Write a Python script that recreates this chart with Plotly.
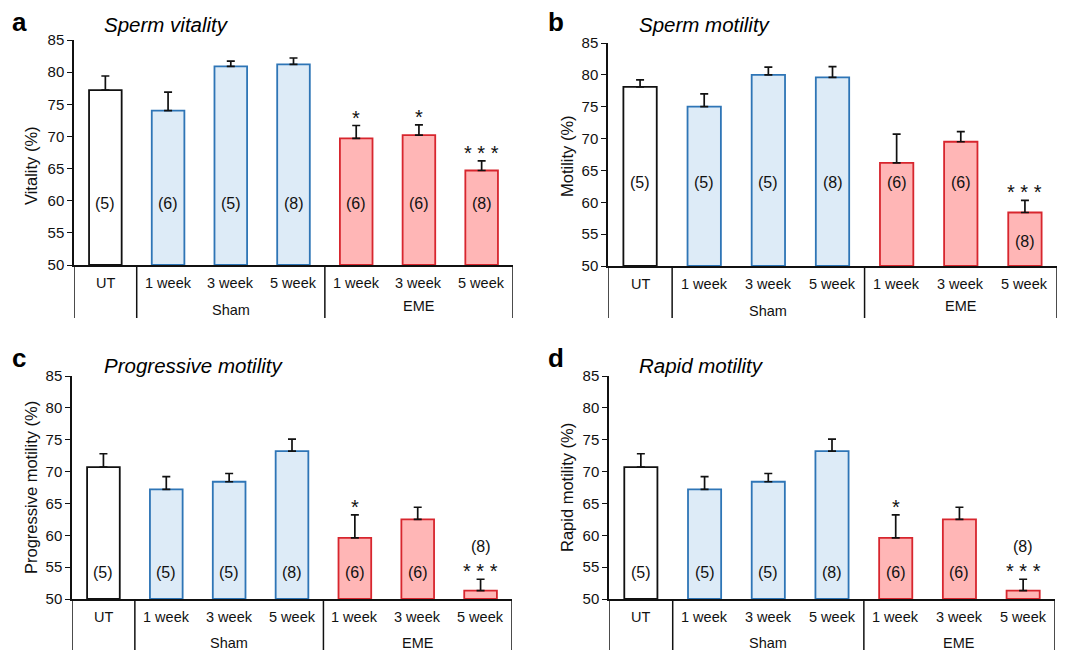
import plotly.graph_objects as go

# ---------------- data ----------------
categories = ["UT", "1 week", "3 week", "5 week", "1 week", "3 week", "5 week"]
groups = [("Sham", 1, 3), ("EME", 4, 6)]

vitality = [77.2, 74.0, 80.9, 81.2, 69.7, 70.2, 64.7]
vitality_err = [2.2, 2.9, 0.8, 1.0, 2.0, 1.6, 1.5]
vitality_n = [5, 6, 5, 8, 6, 6, 8]
vitality_sig = ["", "", "", "", "*", "*", "***"]

motility = [78.1, 75.0, 80.0, 79.6, 66.2, 69.5, 58.4]
motility_err = [1.1, 2.0, 1.2, 1.7, 4.5, 1.6, 1.9]
motility_n = [5, 5, 5, 8, 6, 6, 8]
motility_sig = ["", "", "", "", "", "", "***"]

progressive = [70.7, 67.2, 68.4, 73.2, 59.6, 62.5, 51.3]
progressive_err = [2.1, 2.0, 1.3, 1.9, 3.6, 1.9, 1.8]
progressive_n = [5, 5, 5, 8, 6, 6, 8]
progressive_sig = ["", "", "", "", "*", "", "***"]

rapid = [70.7, 67.2, 68.4, 73.2, 59.6, 62.5, 51.3]
rapid_err = [2.1, 2.0, 1.3, 1.9, 3.6, 1.9, 1.8]
rapid_n = [5, 5, 5, 8, 6, 6, 8]
rapid_sig = ["", "", "", "", "*", "", "***"]

y_ticks = [50, 55, 60, 65, 70, 75, 80, 85]

# ---------------- style ----------------
FONT = "Liberation Sans, Arial, sans-serif"
W, H = 1072, 650
fills = ["#FFFFFF", "#DDEBF7", "#DDEBF7", "#DDEBF7", "#FFB6B6", "#FFB6B6", "#FFB6B6"]
edges = ["#111111", "#2E75B6", "#2E75B6", "#2E75B6", "#D7262E", "#D7262E", "#D7262E"]

# panel layout in pixels: (x_left, x_right, y_top(85), y_bottom(50), divider_bottom)
panels = [
    dict(letter="a", title="Sperm vitality", ytitle="Vitality (%)",
         vals=vitality, err=vitality_err, n=vitality_n, sig=vitality_sig,
         px=(74, 513, 40, 265, 318), lab_y=59.6, lab_override={},
         letter_pos=(19, 22), title_pos=(102, 24), ytitle_pos=(31, 166),
         sham_dy=45, eme_dy=41),
    dict(letter="b", title="Sperm motility", ytitle="Motility (%)",
         vals=motility, err=motility_err, n=motility_n, sig=motility_sig,
         px=(608, 1057, 43, 266, 318), lab_y=63.1, lab_override={6: 53.9},
         letter_pos=(556, 22), title_pos=(637, 24), ytitle_pos=(567, 156),
         sham_dy=45, eme_dy=40),
    dict(letter="c", title="Progressive motility", ytitle="Progressive motility (%)",
         vals=progressive, err=progressive_err, n=progressive_n, sig=progressive_sig,
         px=(72, 512, 376, 599, 650), lab_y=54.2, lab_override={6: 58.3},
         letter_pos=(19, 358), title_pos=(102, 365), ytitle_pos=(31, 488),
         sham_dy=44, eme_dy=44),
    dict(letter="d", title="Rapid motility", ytitle="Rapid motility (%)",
         vals=rapid, err=rapid_err, n=rapid_n, sig=rapid_sig,
         px=(609, 1055, 376, 599, 650), lab_y=54.2, lab_override={6: 58.3},
         letter_pos=(556, 358), title_pos=(637, 365), ytitle_pos=(567, 488),
         sham_dy=44, eme_dy=44),
]

fig = go.Figure()
annotations = []
shapes = []
layout_axes = {}

x_idx = list(range(len(categories)))

for i, p in enumerate(panels):
    k = "" if i == 0 else str(i + 1)
    xa, ya = "x" + k, "y" + k
    xl, xr, yt, yb, ydiv = p["px"]
    xdom = [xl / W, xr / W]
    ydom = [1 - yb / H, 1 - yt / H]

    fig.add_trace(go.Bar(
        x=x_idx, y=[v - 50 for v in p["vals"]], base=50,
        width=0.52,
        marker=dict(color=fills, line=dict(color=edges, width=1.8)),
        error_y=dict(type="data", symmetric=False, array=p["err"],
                     arrayminus=[0] * len(p["err"]), color="#111111",
                     thickness=1.7, width=4),
        xaxis=xa, yaxis=ya, showlegend=False, hoverinfo="skip",
    ))

    layout_axes["xaxis" + k] = dict(
        domain=xdom, anchor=ya, range=[-0.5, 6.5], showgrid=False,
        zeroline=False, showline=True, linecolor="#111111", linewidth=1.5,
        ticks="", showticklabels=False, fixedrange=True, automargin=False)
    layout_axes["yaxis" + k] = dict(
        domain=ydom, anchor=xa, range=[50, 85], tickvals=y_ticks,
        showgrid=False, zeroline=False, showline=True, linecolor="#111111",
        linewidth=1.5, ticks="outside", ticklen=5, tickwidth=1.3,
        tickcolor="#111111", tickfont=dict(family=FONT, size=15, color="#111111"),
        fixedrange=True, automargin=False)

    # count labels and significance stars
    for j, v in enumerate(p["vals"]):
        ly = p["lab_override"].get(j, p["lab_y"])
        annotations.append(dict(
            x=j, y=ly, xref=xa, yref=ya, text=f"({p['n'][j]})", showarrow=False,
            font=dict(family=FONT, size=16, color="#111111"), yanchor="middle"))
        if p["sig"][j]:
            s = p["sig"][j]
            annotations.append(dict(
                x=j, y=v + p["err"][j], xref=xa, yref=ya,
                text=" ".join(s) if len(s) > 1 else s, showarrow=False,
                font=dict(family=FONT, size=20, color="#111111"),
                yanchor="bottom", yshift=-5))

    # category labels
    for j, c in enumerate(categories):
        annotations.append(dict(
            x=j, y=1 - (yb + 18) / H, xref=xa, yref="paper", text=c,
            showarrow=False, yanchor="middle",
            font=dict(family=FONT, size=14.5, color="#111111")))
    # group labels
    for (g, a, b) in groups:
        dy = p["sham_dy"] if g == "Sham" else p["eme_dy"]
        annotations.append(dict(
            x=(a + b) / 2, y=1 - (yb + dy) / H, xref=xa, yref="paper", text=g,
            showarrow=False, yanchor="middle",
            font=dict(family=FONT, size=14.5, color="#111111")))
    # dividers
    for xd in [-0.5, 0.5, 3.5, 6.5]:
        shapes.append(dict(type="line", xref=xa, yref="paper", x0=xd, x1=xd,
                           y0=1 - yb / H, y1=1 - ydiv / H,
                           line=dict(color="#111111", width=1.5)))

    # panel letter, title, y title
    lx, ly_ = p["letter_pos"]
    annotations.append(dict(x=lx / W, y=1 - ly_ / H, xref="paper", yref="paper",
                            text=f"<b>{p['letter']}</b>", showarrow=False,
                            xanchor="center", yanchor="middle",
                            font=dict(family=FONT, size=26, color="#000000")))
    tx, ty = p["title_pos"]
    annotations.append(dict(x=tx / W, y=1 - ty / H, xref="paper", yref="paper",
                            text=f"<i>{p['title']}</i>", showarrow=False,
                            xanchor="left", yanchor="middle",
                            font=dict(family=FONT, size=20.5, color="#000000")))
    ax_, ay_ = p["ytitle_pos"]
    annotations.append(dict(x=ax_ / W, y=1 - ay_ / H, xref="paper", yref="paper",
                            text=p["ytitle"], showarrow=False, textangle=-90,
                            xanchor="center", yanchor="middle",
                            font=dict(family=FONT, size=16.5, color="#111111")))

fig.update_layout(
    width=W, height=H, margin=dict(l=0, r=0, t=0, b=0, autoexpand=False),
    paper_bgcolor="white", plot_bgcolor="white",
    annotations=annotations, shapes=shapes, bargap=0.48,
    **layout_axes,
)

fig.write_html(
    "out.html",
    config={"displayModeBar": False},
    post_script="document.body.style.margin='0';document.body.style.overflow='hidden';",
)
